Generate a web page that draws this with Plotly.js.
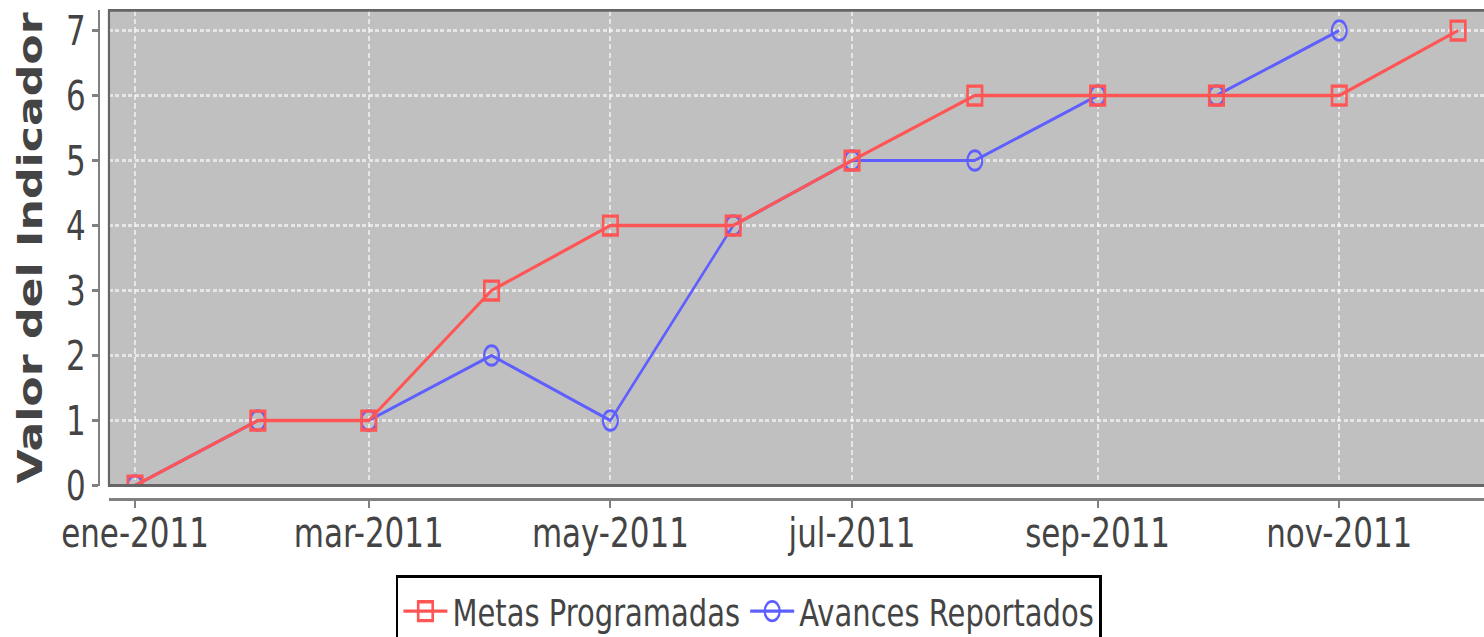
<!DOCTYPE html>
<html>
<head>
<meta charset="utf-8">
<script src="https://cdn.plot.ly/plotly-3.0.1.min.js"></script>
<style>
html,body{margin:0;padding:0;overflow:hidden;background:#ffffff}
#wrap{width:1484px;height:637px;overflow:hidden;position:relative}
#chart{width:1484px;height:490px;transform:scaleY(1.3);transform-origin:0 0}
</style>
</head>
<body>
<div id="wrap"><div id="chart"></div></div>
<script>
// ---- data ----
const months = ['2011-01-01','2011-02-01','2011-03-01','2011-04-01','2011-05-01','2011-06-01',
                '2011-07-01','2011-08-01','2011-09-01','2011-10-01','2011-11-01','2011-12-01'];
const metasProgramadas = [0, 1, 1, 3, 4, 4, 5, 6, 6, 6, 6, 7];
const avancesReportados = [0, 1, 1, 2, 1, 4, 5, 5, 6, 6, 7, null];
const xTickDates = ['2011-01-01','2011-03-01','2011-05-01','2011-07-01','2011-09-01','2011-11-01'];
const xTickLabels = ['ene-2011','mar-2011','may-2011','jul-2011','sep-2011','nov-2011'];
const yTickValues = [0, 1, 2, 3, 4, 5, 6, 7];
const seriesNames = ['Metas Programadas', 'Avances Reportados'];
const yTitle = 'Valor del Indicador';

const FONT = 'DejaVu Sans, Verdana, sans-serif';
const TXT = '#444444';

const traces = [
  {
    x: months, y: avancesReportados, name: seriesNames[1], type: 'scatter', mode: 'lines+markers',
    line: {color: '#5f5fff', width: 2.4},
    marker: {symbol: 'circle-open', size: 15, color: '#5f5fff', line: {width: 2.2, color: '#5f5fff'}},
    legendrank: 2, connectgaps: false
  },
  {
    x: months, y: metasProgramadas, name: seriesNames[0], type: 'scatter', mode: 'lines+markers',
    line: {color: '#ff5555', width: 2.6},
    marker: {symbol: 'square-open', size: 14.5, color: '#ff5555', line: {width: 2.6, color: '#ff5555'}},
    legendrank: 1
  }
];

const layout = {
  width: 1484, height: 490,
  paper_bgcolor: '#ffffff',
  plot_bgcolor: '#c0c0c0',
  margin: {l: 99, r: 0, t: 8, b: 106, autoexpand: false},
  showlegend: true,
  font: {family: FONT, color: TXT},
  xaxis: {
    type: 'date',
    domain: [0.0072, 1],
    anchor: 'free', position: 0,
    range: ['2010-12-25 10:00', '2011-12-07 13:00'],
    tickmode: 'array', tickvals: xTickDates, ticktext: xTickLabels,
    tickfont: {family: FONT, size: 31, color: TXT},
    ticks: 'outside', ticklen: 5, tickwidth: 2, tickcolor: '#808080',
    ticklabelstandoff: -7,
    showline: true, linecolor: '#808080', linewidth: 2.4,
    showgrid: true, gridcolor: 'rgba(255,255,255,0.6)', gridwidth: 2, griddash: '4px,2.5px',
    zeroline: false, automargin: false
  },
  yaxis: {
    domain: [0.028, 1],
    anchor: 'free', position: 0,
    range: [0, 7.31],
    tickmode: 'array', tickvals: yTickValues,
    tickfont: {family: FONT, size: 31, color: TXT},
    ticks: 'outside', ticklen: 6, tickwidth: 2, tickcolor: '#808080',
    showline: true, linecolor: '#808080', linewidth: 2.4,
    showgrid: true, gridcolor: 'rgba(255,255,255,0.6)', gridwidth: 2, griddash: '4px,2.5px',
    zeroline: false, automargin: false,
    title: {text: yTitle, font: {family: FONT, size: 34, color: TXT, weight: 'bold'}, standoff: 12}
  },
  legend: {
    orientation: 'h',
    x: 0.2144, xanchor: 'left',
    y: -0.155, yanchor: 'top',
    bgcolor: '#ffffff', bordercolor: '#000000', borderwidth: 2.5,
    font: {family: FONT, size: 29, color: TXT},
    itemwidth: 44
  },
  shapes: [{
    type: 'rect', xref: 'x domain', yref: 'y domain',
    x0: 0, x1: 1.02, y0: 0, y1: 1,
    line: {color: '#666666', width: 2.2}, layer: 'above'
  }]
};

Plotly.newPlot('chart', traces, layout, {staticPlot: true, displayModeBar: false});
</script>
</body>
</html>
